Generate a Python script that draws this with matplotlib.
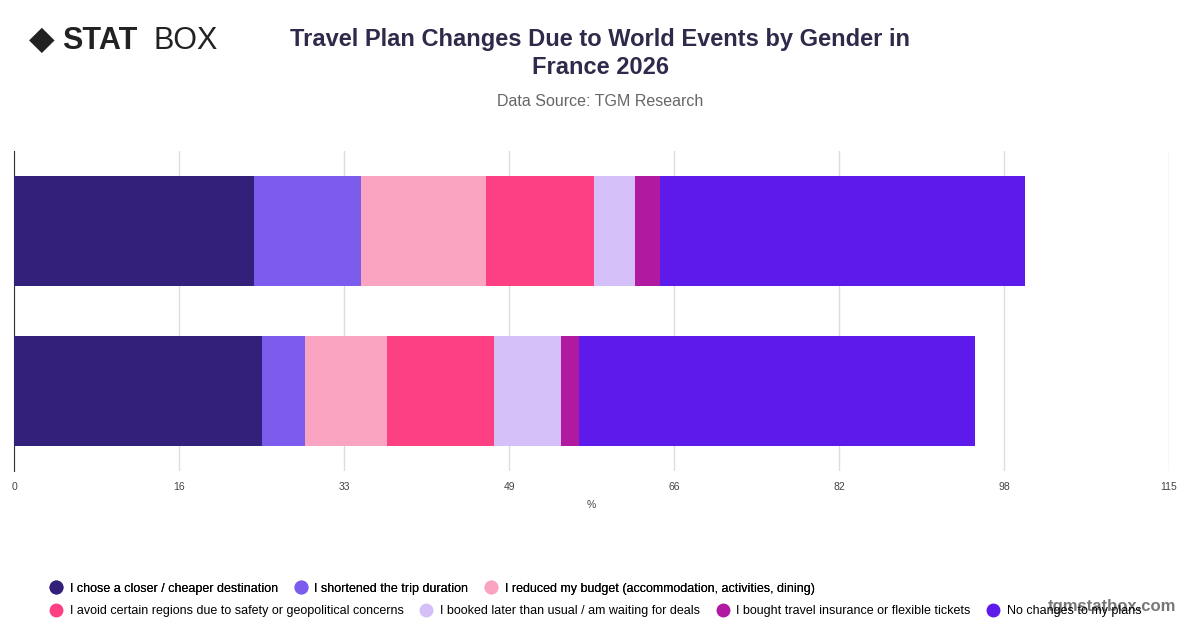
import matplotlib
matplotlib.use("Agg")
import matplotlib.pyplot as plt
import numpy as np
from matplotlib.lines import Line2D

categories = ["Male", "Female"]
series = ["I chose a closer / cheaper destination", "I shortened the trip duration",
          "I reduced my budget (accommodation, activities, dining)",
          "I avoid certain regions due to safety or geopolitical concerns",
          "I booked later than usual / am waiting for deals",
          "I bought travel insurance or flexible tickets", "No changes to my plans"]
values_top = [23.9, 10.65, 12.45, 10.75, 4.1, 2.5, 36.3]
values_bottom = [24.7, 4.2, 8.2, 10.7, 6.7, 1.7, 39.5]
colors = ["#33207a", "#7b5cec", "#fba4c2", "#fc4083", "#d4bff9", "#b11aa0", "#5e1aea"]
ticks = [0, 16, 33, 49, 66, 82, 98, 115]

plt.rcParams['font.family'] = ['Liberation Sans', 'DejaVu Sans']
fig = plt.figure(figsize=(12, 6.28), dpi=100)
ax = fig.add_axes([0.012, 0.25, 0.962, 0.51])
vals = [values_top, values_bottom]
ypos = [1, 0]
for y, v in zip(ypos, vals):
    left = 0
    for val, c in zip(v, colors):
        ax.barh(y, val, left=left, color=c, height=0.69, zorder=3)
        left += val
ax.set_xlim(0, 115)
ax.set_ylim(-0.5, 1.5)
ax.set_xticks(np.linspace(0, 115, 8))
ax.set_xticklabels([str(t) for t in ticks], fontsize=7.5, color="#444")
ax.set_yticks([])
ax.grid(axis='x', color="#dddddd", lw=1, zorder=0)
for s in ["top", "right", "bottom"]:
    ax.spines[s].set_visible(False)
ax.spines["left"].set_color("#333")
ax.tick_params(axis='x', length=0, pad=8)
ax.set_xlabel("%", fontsize=7.5, color="#444", labelpad=6)

fig.text(0.5, 0.915, "Travel Plan Changes Due to World Events by Gender in\nFrance 2026",
         ha="center", va="center", fontsize=17, fontweight="bold", color="#2e2a4a", linespacing=1.3)
fig.text(0.5, 0.838, "Data Source: TGM Research", ha="center", va="center", fontsize=11.5, color="#666")
fig.text(0.052, 0.935, "STAT", ha="left", va="center", fontsize=22, fontweight="bold", color="#222")
fig.text(0.128, 0.935, "BOX", ha="left", va="center", fontsize=22, color="#222")
fig.text(0.035, 0.935, "◆", ha="center", va="center", fontsize=24, color="#222")

handles = [Line2D([], [], marker='o', ls='', markersize=9, color=c) for c in colors]
leg1 = fig.legend(handles[:3], series[:3], loc="center left", bbox_to_anchor=(0.027, 0.0625),
                  ncol=3, frameon=False, fontsize=9, handletextpad=0.1, columnspacing=0.8)
fig.add_artist(leg1)
fig.legend(handles[3:], series[3:], loc="center left", bbox_to_anchor=(0.027, 0.027),
           ncol=4, frameon=False, fontsize=9, handletextpad=0.1, columnspacing=0.8)
fig.text(0.98, 0.035, "tgmstatbox.com", ha="right", va="center", fontsize=12,
         fontweight="bold", color="#555", alpha=0.8)
fig.savefig("out.png", dpi=100)
